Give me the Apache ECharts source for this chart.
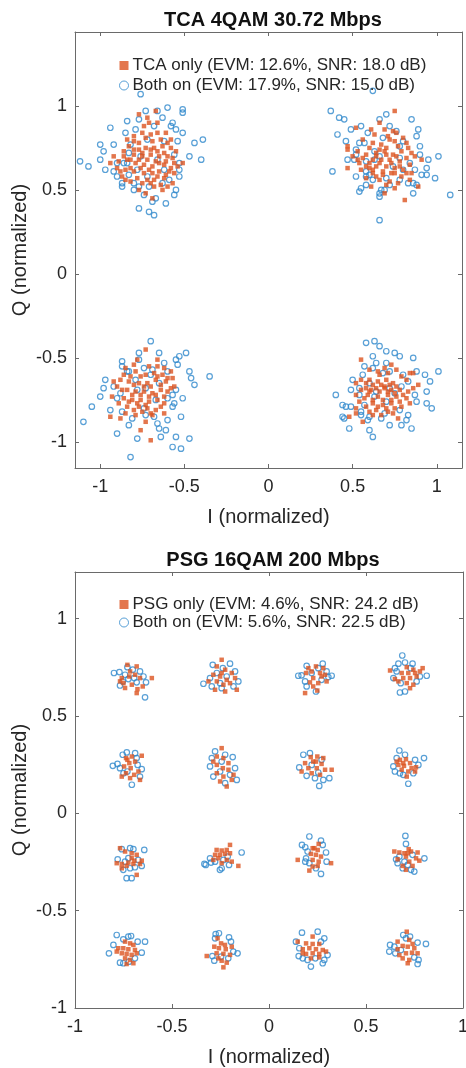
<!DOCTYPE html>
<html>
<head>
<meta charset="utf-8">
<script src="https://cdn.jsdelivr.net/npm/echarts@6/dist/echarts.min.js"></script>
<style>
html,body{margin:0;padding:0;background:#fff;}
#c{width:466px;height:1068px;}
</style>
</head>
<body>
<div id="c"></div>
<script>
// ---------- data ----------
const titleTop = 'TCA 4QAM 30.72 Mbps';
const titleBottom = 'PSG 16QAM 200 Mbps';
const nameTcaOnly = 'TCA only (EVM: 12.6%, SNR: 18.0 dB)';
const nameTcaBoth = 'Both on (EVM: 17.9%, SNR: 15.0 dB)';
const namePsgOnly = 'PSG only (EVM: 4.6%, SNR: 24.2 dB)';
const namePsgBoth = 'Both on (EVM: 5.6%, SNR: 22.5 dB)';
const xLabel = 'I (normalized)';
const yLabel = 'Q (normalized)';
const tickValues = [-1, -0.5, 0, 0.5, 1];
const topRangeI = [-1.15, 1.15];
const topRangeQ = [-1.155, 1.44];
const bottomRangeI = [-1, 1];
const bottomRangeQ = [-1, 1.24];

// TCA only (orange squares), top panel
const tcaOnly = [
[-0.77,0.95],[-0.72,0.93],[-0.67,0.97],[-0.71,0.90],[-0.66,0.84],[-0.61,0.84],[-0.84,0.80],[-0.80,0.79],[-0.77,0.78],[-0.73,0.81],
[-0.69,0.79],[-0.58,0.80],[-0.83,0.76],[-0.77,0.74],[-0.73,0.75],[-0.68,0.75],[-0.63,0.76],[-0.58,0.75],[-0.86,0.73],[-0.80,0.71],
[-0.75,0.70],[-0.70,0.71],[-0.65,0.70],[-0.60,0.70],[-0.55,0.73],[-0.94,0.66],[-0.89,0.67],[-0.84,0.68],[-0.79,0.66],[-0.74,0.65],
[-0.69,0.64],[-0.65,0.66],[-0.61,0.67],[-0.56,0.66],[-0.51,0.66],[-0.90,0.63],[-0.85,0.62],[-0.80,0.61],[-0.74,0.60],[-0.69,0.60],
[-0.65,0.61],[-0.59,0.61],[-0.54,0.64],[-0.78,0.57],[-0.72,0.56],[-0.68,0.56],[-0.62,0.57],[-0.87,0.58],[-0.77,0.50],[-0.73,0.48],
[-0.68,0.52],[-0.63,0.50],[-0.85,0.56],[-0.57,0.54],
[-0.80,0.82],[-0.75,0.84],[-0.70,0.83],[-0.64,0.80],[-0.60,0.78],[-0.86,0.70],[-0.82,0.68],[-0.77,0.68],[-0.72,0.68],[-0.67,0.67],
[-0.62,0.65],[-0.58,0.63],[-0.88,0.61],[-0.82,0.63],[-0.76,0.63],[-0.71,0.62],[-0.66,0.58],[-0.61,0.59],[-0.56,0.60],[-0.82,0.55],
[-0.75,0.54],[-0.70,0.54],[-0.64,0.53],[-0.60,0.52],[-0.80,0.74],[-0.75,0.72],[-0.70,0.74],[-0.66,0.73],[-0.62,0.72],[-0.57,0.69],
[-0.92,0.70],[-0.69,0.45],[-0.74,0.88],[-0.66,0.90],
[0.75,0.97],[0.66,0.90],[0.52,0.87],[0.61,0.86],[0.69,0.86],[0.74,0.85],[0.63,0.83],[0.71,0.82],[0.76,0.84],[0.47,0.76],
[0.47,0.74],[0.53,0.73],[0.62,0.78],[0.67,0.77],[0.75,0.79],[0.82,0.78],[0.64,0.72],[0.69,0.73],[0.74,0.71],[0.79,0.73],
[0.85,0.72],[0.56,0.69],[0.62,0.68],[0.67,0.68],[0.72,0.68],[0.78,0.67],[0.91,0.68],[0.47,0.63],[0.58,0.64],[0.64,0.64],
[0.70,0.64],[0.75,0.63],[0.80,0.62],[0.62,0.60],[0.68,0.59],[0.73,0.60],[0.79,0.58],[0.66,0.56],[0.72,0.55],[0.89,0.52],
[0.75,0.51],[0.69,0.48],[0.81,0.44],[0.60,0.63],[0.85,0.60],[0.54,0.66],
[0.56,0.80],[0.60,0.75],[0.66,0.74],[0.70,0.75],[0.77,0.76],[0.83,0.75],[0.58,0.71],[0.64,0.70],[0.70,0.71],[0.76,0.70],
[0.82,0.69],[0.87,0.70],[0.53,0.68],[0.60,0.66],[0.66,0.66],[0.73,0.66],[0.78,0.64],[0.84,0.65],[0.55,0.62],[0.62,0.62],
[0.68,0.61],[0.75,0.60],[0.82,0.60],[0.58,0.57],[0.64,0.58],[0.70,0.53],[0.77,0.54],[0.61,0.52],[0.84,0.56],[0.50,0.70],
[0.72,0.80],[0.80,0.81],
[-0.73,-0.45],[-0.78,-0.51],[-0.66,-0.51],[-0.58,-0.58],[-0.85,-0.56],[-0.79,-0.58],[-0.73,-0.60],[-0.68,-0.59],[-0.63,-0.60],[-0.88,-0.63],
[-0.83,-0.64],[-0.77,-0.65],[-0.72,-0.65],[-0.67,-0.63],[-0.61,-0.64],[-0.56,-0.67],[-0.90,-0.67],[-0.84,-0.69],[-0.79,-0.70],[-0.74,-0.70],
[-0.69,-0.71],[-0.64,-0.69],[-0.60,-0.70],[-0.93,-0.73],[-0.86,-0.74],[-0.81,-0.75],[-0.76,-0.75],[-0.71,-0.76],[-0.66,-0.75],[-0.62,-0.77],
[-0.84,-0.79],[-0.77,-0.79],[-0.72,-0.80],[-0.67,-0.81],[-0.94,-0.85],[-0.88,-0.86],[-0.79,-0.84],[-0.69,-0.84],[-0.76,-0.93],[-0.70,-0.99],
[-0.82,-0.61],[-0.57,-0.62],
[-0.80,-0.54],[-0.71,-0.55],[-0.62,-0.56],[-0.86,-0.60],[-0.76,-0.61],[-0.66,-0.61],[-0.60,-0.62],[-0.80,-0.66],[-0.74,-0.67],[-0.70,-0.67],
[-0.64,-0.66],[-0.58,-0.68],[-0.87,-0.69],[-0.81,-0.72],[-0.76,-0.72],[-0.71,-0.73],[-0.67,-0.72],[-0.62,-0.73],[-0.89,-0.77],[-0.83,-0.76],
[-0.78,-0.77],[-0.73,-0.78],[-0.64,-0.79],[-0.80,-0.81],[-0.75,-0.82],[-0.70,-0.83],[-0.62,-0.83],[-0.85,-0.83],[-0.73,-0.88],[-0.66,-0.55],
[-0.92,-0.64],
[0.55,-0.51],[0.65,-0.58],[0.69,-0.56],[0.73,-0.54],[0.76,-0.57],[0.84,-0.59],[0.86,-0.59],[0.55,-0.63],[0.60,-0.63],[0.65,-0.64],
[0.70,-0.63],[0.74,-0.65],[0.82,-0.63],[0.89,-0.66],[0.58,-0.68],[0.64,-0.68],[0.69,-0.68],[0.73,-0.69],[0.78,-0.69],[0.83,-0.70],
[0.52,-0.72],[0.59,-0.72],[0.65,-0.73],[0.71,-0.72],[0.76,-0.73],[0.82,-0.74],[0.54,-0.76],[0.62,-0.77],[0.68,-0.78],[0.73,-0.77],
[0.79,-0.79],[0.52,-0.80],[0.64,-0.81],[0.71,-0.82],[0.48,-0.85],[0.52,-0.83],[0.62,-0.84],[0.77,-0.86],[0.69,-0.67],[0.60,-0.70],
[0.60,-0.57],[0.71,-0.59],[0.79,-0.61],[0.52,-0.65],[0.58,-0.65],[0.62,-0.66],[0.67,-0.66],[0.72,-0.66],[0.76,-0.67],[0.86,-0.68],
[0.55,-0.69],[0.61,-0.69],[0.66,-0.70],[0.71,-0.70],[0.75,-0.71],[0.80,-0.72],[0.57,-0.74],[0.62,-0.75],[0.68,-0.75],[0.73,-0.75],
[0.78,-0.76],[0.58,-0.79],[0.65,-0.79],[0.70,-0.80],[0.75,-0.80],[0.60,-0.82],[0.67,-0.84],[0.74,-0.83],[0.84,-0.77],[0.56,-0.88],
[0.66,-0.60]
];

// Both on (blue open circles), top panel
const tcaBoth = [
[-0.76,1.07],[-0.73,0.97],[-0.60,0.99],[-0.51,0.98],[-0.51,0.96],[-0.66,0.97],[-0.84,0.91],[-0.94,0.87],[-0.77,0.92],[-0.63,0.93],
[-0.57,0.90],[-0.85,0.84],[-0.79,0.86],[-0.68,0.88],[-0.55,0.86],[-0.51,0.84],[-1.00,0.77],[-0.92,0.77],[-0.54,0.79],[-0.44,0.78],
[-0.39,0.80],[-1.12,0.67],[-1.07,0.64],[-1.00,0.68],[-0.97,0.62],[-0.92,0.61],[-0.90,0.66],[-0.83,0.72],[-0.84,0.66],[-0.78,0.62],
[-0.83,0.59],[-0.87,0.54],[-0.87,0.52],[-0.80,0.54],[-0.77,0.52],[-0.71,0.52],[-0.63,0.54],[-0.59,0.56],[-0.53,0.58],[-0.53,0.62],
[-0.53,0.66],[-0.40,0.68],[-0.55,0.50],[-0.56,0.47],[-0.67,0.45],[-0.61,0.42],[-0.77,0.39],[-0.71,0.37],[-0.68,0.35],[-0.74,0.47],
[-0.82,0.77],[-0.72,0.80],[-0.62,0.79],[-0.86,0.66],[-0.76,0.70],[-0.66,0.68],[-0.56,0.71],[-0.72,0.58],[-0.62,0.62],[-0.80,0.50],
[-0.90,0.58],[-0.58,0.88],[-0.47,0.70],[-0.98,0.73],[-0.69,0.43],
[0.62,1.09],[0.37,0.97],[0.42,0.93],[0.45,0.92],[0.41,0.83],[0.49,0.86],[0.55,0.88],[0.59,0.84],[0.66,0.92],[0.72,0.88],
[0.76,0.85],[0.89,0.86],[0.88,0.82],[0.54,0.78],[0.52,0.74],[0.63,0.73],[0.90,0.76],[0.47,0.68],[0.51,0.68],[0.58,0.67],
[0.78,0.69],[0.90,0.71],[1.01,0.70],[0.38,0.61],[0.58,0.61],[0.87,0.62],[0.94,0.63],[0.91,0.59],[0.94,0.59],[0.99,0.57],
[0.58,0.58],[0.62,0.56],[0.70,0.57],[0.78,0.56],[0.83,0.54],[0.86,0.54],[0.88,0.53],[0.58,0.53],[0.55,0.51],[0.54,0.49],
[0.67,0.50],[0.66,0.48],[0.66,0.46],[0.69,0.50],[0.86,0.48],[1.08,0.47],[0.66,0.32],[0.63,0.68],[0.78,0.76],
[0.57,0.78],[0.68,0.81],[0.80,0.79],[0.52,0.71],[0.66,0.70],[0.74,0.64],[0.84,0.66],[0.60,0.59],[0.72,0.53],[0.80,0.62],
[0.95,0.68],[0.46,0.79],[0.70,0.95],[0.85,0.92],[0.52,0.58],
[-0.77,-0.47],[-0.65,-0.47],[-0.49,-0.47],[-0.53,-0.49],[-0.55,-0.51],[-0.87,-0.52],[-0.77,-0.51],[-0.62,-0.53],[-0.54,-0.54],[-0.87,-0.55],
[-0.74,-0.56],[-0.84,-0.58],[-0.69,-0.57],[-0.47,-0.58],[-0.46,-0.62],[-0.35,-0.61],[-0.97,-0.63],[-0.92,-0.67],[-0.98,-0.68],[-0.79,-0.63],
[-0.65,-0.65],[-0.55,-0.69],[-0.51,-0.74],[-0.57,-0.72],[-0.57,-0.79],[-1.05,-0.79],[-0.94,-0.81],[-1.10,-0.88],[-0.87,-0.82],[-0.81,-0.86],
[-0.73,-0.84],[-0.68,-0.85],[-0.60,-0.87],[-0.66,-0.89],[-0.65,-0.92],[-0.61,-0.93],[-0.78,-0.98],[-0.55,-0.97],[-0.47,-0.98],[-0.57,-1.03],
[-0.52,-1.04],[-0.82,-1.09],[-0.60,-0.74],[-0.73,-0.68],[-0.88,-0.71],
[-0.83,-0.58],[-0.70,-0.60],[-0.60,-0.58],[-0.90,-0.74],[-0.78,-0.69],[-0.67,-0.75],[-0.56,-0.77],[-0.74,-0.80],[-0.83,-0.90],[-0.64,-0.97],
[-0.44,-0.66],[-1.00,-0.73],[-0.70,-0.40],[-0.52,-0.85],[-0.90,-0.95],
[0.58,-0.41],[0.63,-0.40],[0.66,-0.43],[0.62,-0.49],[0.70,-0.46],[0.75,-0.47],[0.78,-0.49],[0.64,-0.53],[0.70,-0.53],[0.62,-0.56],
[0.56,-0.60],[0.72,-0.58],[0.80,-0.60],[0.88,-0.58],[0.93,-0.60],[1.01,-0.58],[0.49,-0.69],[0.54,-0.68],[0.60,-0.65],[0.79,-0.67],
[0.87,-0.72],[0.94,-0.70],[0.54,-0.72],[0.63,-0.73],[0.70,-0.76],[0.44,-0.78],[0.46,-0.79],[0.49,-0.79],[0.94,-0.77],[0.97,-0.80],
[0.55,-0.82],[0.60,-0.85],[0.55,-0.84],[0.44,-0.85],[0.45,-0.86],[0.59,-0.87],[0.67,-0.86],[0.83,-0.84],[0.82,-0.87],[0.72,-0.90],
[0.85,-0.92],[0.60,-0.93],[0.78,-0.81],[0.75,-0.71],
[0.57,-0.55],[0.68,-0.59],[0.83,-0.64],[0.50,-0.63],[0.64,-0.70],[0.72,-0.68],[0.88,-0.76],[0.57,-0.78],[0.69,-0.83],[0.79,-0.90],
[0.48,-0.92],[0.96,-0.64],[0.86,-0.50],[0.62,-0.97],[0.40,-0.72]
];

// PSG only (orange squares), bottom panel
const psgOnly = [
[-0.730,0.763],[-0.682,0.755],[-0.759,0.695],[-0.720,0.703],[-0.690,0.712],[-0.665,0.695],[-0.604,0.695],[-0.750,0.669],[-0.707,0.661],[-0.678,0.638],
[-0.682,0.618],[-0.768,0.678],[-0.716,0.729],[-0.651,0.652],[-0.742,0.644],
[-0.244,0.789],[-0.269,0.755],[-0.226,0.738],[-0.192,0.721],[-0.287,0.712],[-0.252,0.703],[-0.218,0.686],[-0.175,0.695],[-0.312,0.678],[-0.269,0.678],
[-0.235,0.661],[-0.201,0.669],[-0.278,0.635],[-0.226,0.626],[-0.166,0.635],[-0.244,0.721],
[0.203,0.746],[0.242,0.755],[0.220,0.729],[0.263,0.721],[0.289,0.712],[0.191,0.721],[0.228,0.695],[0.271,0.703],[0.211,0.673],[0.254,0.669],
[0.297,0.678],[0.186,0.618],[0.249,0.631],[0.228,0.652],[0.280,0.746],
[0.624,0.734],[0.710,0.751],[0.744,0.738],[0.792,0.746],[0.684,0.721],[0.718,0.721],[0.753,0.721],[0.649,0.690],[0.692,0.695],[0.727,0.695],
[0.761,0.703],[0.710,0.669],[0.744,0.661],[0.727,0.643],[0.667,0.678],[0.778,0.729],
[-0.737,0.284],[-0.707,0.292],[-0.720,0.258],[-0.690,0.266],[-0.747,0.241],[-0.713,0.232],[-0.673,0.215],[-0.737,0.206],[-0.695,0.198],[-0.759,0.189],
[-0.665,0.172],[-0.716,0.181],[-0.656,0.296],[-0.730,0.275],
[-0.244,0.335],[-0.269,0.292],[-0.235,0.284],[-0.209,0.258],[-0.269,0.249],[-0.238,0.232],[-0.209,0.224],[-0.269,0.206],[-0.235,0.189],[-0.192,0.172],
[-0.252,0.164],[-0.218,0.138],[-0.287,0.266],[-0.183,0.198],
[0.215,0.289],[0.249,0.292],[0.280,0.284],[0.186,0.258],[0.228,0.266],[0.271,0.254],[0.203,0.232],[0.246,0.232],[0.289,0.224],[0.323,0.224],
[0.220,0.206],[0.263,0.198],[0.168,0.215],[0.242,0.266],
[0.675,0.275],[0.706,0.278],[0.727,0.258],[0.667,0.249],[0.696,0.244],[0.735,0.232],[0.758,0.237],[0.684,0.224],[0.718,0.215],[0.658,0.266],
[0.753,0.215],[0.710,0.189],[0.692,0.258],
[-0.768,-0.179],[-0.742,-0.196],[-0.708,-0.205],[-0.682,-0.213],[-0.785,-0.256],[-0.759,-0.260],[-0.725,-0.253],[-0.694,-0.243],[-0.656,-0.243],[-0.734,-0.270],
[-0.699,-0.260],[-0.665,-0.260],[-0.759,-0.282],[-0.682,-0.316],[-0.708,-0.230],
[-0.201,-0.162],[-0.270,-0.188],[-0.244,-0.191],[-0.218,-0.188],[-0.278,-0.213],[-0.253,-0.213],[-0.227,-0.208],[-0.201,-0.205],[-0.287,-0.239],[-0.261,-0.231],
[-0.218,-0.239],[-0.192,-0.248],[-0.158,-0.270],[-0.244,-0.256],
[0.256,-0.157],[0.225,-0.179],[0.251,-0.188],[0.216,-0.208],[0.242,-0.213],[0.268,-0.222],[0.225,-0.239],[0.256,-0.248],[0.320,-0.256],[0.148,-0.239],
[0.225,-0.273],[0.251,-0.270],[0.208,-0.294],[0.234,-0.179],
[0.720,-0.184],[0.646,-0.196],[0.672,-0.201],[0.698,-0.205],[0.732,-0.196],[0.766,-0.201],[0.706,-0.222],[0.663,-0.236],[0.758,-0.231],[0.723,-0.248],
[0.775,-0.243],[0.740,-0.270],[0.706,-0.290],[0.689,-0.270],[0.715,-0.205],
[-0.742,-0.659],[-0.716,-0.668],[-0.699,-0.676],[-0.777,-0.693],[-0.751,-0.693],[-0.725,-0.698],[-0.691,-0.702],[-0.759,-0.719],[-0.734,-0.722],[-0.708,-0.727],
[-0.682,-0.719],[-0.742,-0.745],[-0.716,-0.753],[-0.734,-0.774],[-0.785,-0.710],[-0.699,-0.770],
[-0.265,-0.642],[-0.247,-0.668],[-0.227,-0.676],[-0.282,-0.685],[-0.258,-0.693],[-0.223,-0.698],[-0.192,-0.685],[-0.321,-0.733],[-0.270,-0.719],[-0.235,-0.722],
[-0.201,-0.727],[-0.244,-0.757],[-0.218,-0.767],[-0.235,-0.791],[-0.261,-0.745],
[0.148,-0.659],[0.225,-0.633],[0.191,-0.668],[0.225,-0.671],[0.259,-0.671],[0.174,-0.698],[0.208,-0.693],[0.242,-0.698],[0.277,-0.702],[0.191,-0.722],
[0.225,-0.719],[0.259,-0.722],[0.294,-0.710],[0.216,-0.745],[0.259,-0.740],[0.174,-0.719],
[0.710,-0.608],[0.663,-0.659],[0.723,-0.650],[0.740,-0.671],[0.689,-0.681],[0.715,-0.685],[0.749,-0.693],[0.672,-0.728],[0.706,-0.719],[0.737,-0.716],
[0.766,-0.719],[0.689,-0.745],[0.723,-0.753],[0.715,-0.770],[0.663,-0.698]
];

// Both on (blue open circles), bottom panel
const psgBoth = [
[-0.799,0.721],[-0.771,0.726],[-0.768,0.657],[-0.730,0.751],[-0.702,0.738],[-0.665,0.729],[-0.647,0.703],[-0.634,0.673],[-0.682,0.673],[-0.725,0.690],
[-0.639,0.596],[-0.742,0.712],[-0.695,0.695],[-0.754,0.678],
[-0.290,0.763],[-0.201,0.769],[-0.238,0.746],[-0.338,0.666],[-0.295,0.652],[-0.244,0.643],[-0.183,0.652],[-0.158,0.678],[-0.269,0.721],[-0.218,0.703],
[-0.304,0.695],[-0.175,0.729],[-0.252,0.669],
[0.151,0.707],[0.168,0.709],[0.194,0.758],[0.277,0.769],[0.323,0.707],[0.306,0.700],[0.186,0.678],[0.194,0.652],[0.242,0.626],[0.271,0.686],
[0.220,0.721],[0.254,0.746],[0.297,0.729],
[0.687,0.811],[0.667,0.769],[0.701,0.775],[0.740,0.769],[0.649,0.746],[0.658,0.729],[0.641,0.695],[0.679,0.669],[0.675,0.621],[0.701,0.626],
[0.778,0.703],[0.813,0.707],[0.730,0.746],[0.761,0.678],
[-0.805,0.244],[-0.781,0.254],[-0.754,0.301],[-0.733,0.313],[-0.690,0.309],[-0.682,0.284],[-0.656,0.227],[-0.665,0.189],[-0.707,0.147],[-0.750,0.206],
[-0.768,0.232],[-0.730,0.215],[-0.677,0.249],
[-0.278,0.318],[-0.226,0.301],[-0.295,0.284],[-0.187,0.289],[-0.304,0.241],[-0.252,0.215],[-0.201,0.198],[-0.175,0.232],[-0.287,0.189],[-0.226,0.155],
[-0.166,0.172],[-0.244,0.266],
[0.177,0.301],[0.211,0.309],[0.156,0.236],[0.194,0.193],[0.237,0.181],[0.259,0.141],[0.280,0.172],[0.311,0.181],[0.254,0.210],[0.271,0.275],
[0.220,0.249],
[0.672,0.323],[0.658,0.284],[0.701,0.301],[0.753,0.275],[0.799,0.284],[0.770,0.249],[0.641,0.241],[0.649,0.215],[0.692,0.198],[0.675,0.206],
[0.718,0.152],[0.744,0.206],
[-0.759,-0.184],[-0.716,-0.179],[-0.699,-0.184],[-0.643,-0.188],[-0.780,-0.236],[-0.742,-0.248],[-0.751,-0.290],[-0.716,-0.282],[-0.691,-0.277],[-0.656,-0.270],
[-0.734,-0.333],[-0.708,-0.333],[-0.725,-0.230],[-0.674,-0.239],
[-0.333,-0.260],[-0.326,-0.265],[-0.299,-0.253],[-0.304,-0.231],[-0.253,-0.290],[-0.244,-0.282],[-0.206,-0.265],[-0.213,-0.222],[-0.141,-0.201],[-0.278,-0.248],
[-0.235,-0.239],
[0.208,-0.119],[0.170,-0.162],[0.187,-0.174],[0.268,-0.140],[0.277,-0.162],[0.199,-0.196],[0.191,-0.231],[0.187,-0.248],[0.208,-0.256],[0.294,-0.201],
[0.297,-0.248],[0.268,-0.311],[0.242,-0.282],
[0.703,-0.116],[0.706,-0.157],[0.655,-0.236],[0.663,-0.256],[0.689,-0.282],[0.715,-0.265],[0.732,-0.290],[0.749,-0.299],[0.698,-0.248],[0.801,-0.231],
[0.740,-0.213],[0.672,-0.222],
[-0.785,-0.625],[-0.751,-0.647],[-0.725,-0.633],[-0.711,-0.630],[-0.677,-0.659],[-0.639,-0.659],[-0.802,-0.676],[-0.825,-0.719],[-0.656,-0.716],[-0.768,-0.767],
[-0.751,-0.770],[-0.722,-0.762],[-0.691,-0.745],
[-0.275,-0.620],[-0.258,-0.616],[-0.278,-0.642],[-0.206,-0.637],[-0.196,-0.659],[-0.292,-0.733],[-0.282,-0.757],[-0.247,-0.736],[-0.210,-0.745],[-0.184,-0.710],
[-0.162,-0.719],
[0.170,-0.613],[0.251,-0.608],[0.139,-0.659],[0.285,-0.642],[0.156,-0.693],[0.153,-0.733],[0.302,-0.728],[0.174,-0.745],[0.199,-0.753],[0.239,-0.745],
[0.285,-0.753],[0.216,-0.787],[0.277,-0.770],[0.268,-0.659],
[0.692,-0.625],[0.706,-0.642],[0.624,-0.676],[0.646,-0.685],[0.620,-0.710],[0.651,-0.719],[0.680,-0.702],[0.766,-0.664],[0.809,-0.671],[0.749,-0.740],
[0.771,-0.753],[0.766,-0.774],[0.727,-0.633]
];

// ---------- chart ----------
const FONT = '"Liberation Sans", Arial, Helvetica, sans-serif';
const TXT = '#262626';
const AX = '#6a6a6a';
const ORANGE = '#dc5420';
const BLUE = '#2f88cc';

const chart = echarts.init(document.getElementById('c'), null, {renderer: 'canvas'});

function tickFmt(v) {
  return tickValues.some(t => Math.abs(t - v) < 1e-9) ? String(v) : '';
}

function xAxisCfg(grid, range, pos, withLabels) {
  return {
    type: 'value', gridIndex: grid, position: pos, min: range[0], max: range[1],
    splitNumber: 5,
    name: withLabels ? xLabel : '', nameLocation: 'middle', nameGap: 39,
    nameTextStyle: {fontFamily: FONT, fontSize: 20, color: TXT},
    axisLine: {show: true, onZero: false, lineStyle: {color: AX, width: 1}},
    axisTick: {show: true, inside: true, length: 4, lineStyle: {color: AX}},
    axisLabel: {show: withLabels, formatter: tickFmt, margin: 10, fontFamily: FONT, fontSize: 18, color: TXT},
    splitLine: {show: false}
  };
}
function yAxisCfg(grid, range, pos, withLabels) {
  return {
    type: 'value', gridIndex: grid, position: pos, min: range[0], max: range[1],
    splitNumber: 5,
    name: withLabels ? yLabel : '', nameLocation: 'middle', nameGap: 45,
    nameMoveOverlap: false,
    nameTextStyle: {fontFamily: FONT, fontSize: 20, color: TXT},
    axisLine: {show: true, onZero: false, lineStyle: {color: AX, width: 1}},
    axisTick: {show: true, inside: true, length: 4, lineStyle: {color: AX}},
    axisLabel: {show: withLabels, formatter: tickFmt, margin: 8, fontFamily: FONT, fontSize: 18, color: TXT},
    splitLine: {show: false}
  };
}

function blueSeries(name, data, xi, yi) {
  return {
    type: 'scatter', name: name, data: data, xAxisIndex: xi, yAxisIndex: yi,
    symbol: 'circle', symbolSize: 5.5,
    itemStyle: {color: 'rgba(255,255,255,0)', borderColor: BLUE, borderWidth: 1.2},
    emphasis: {disabled: true}, silent: true, animation: false
  };
}
function orangeSeries(name, data, xi, yi) {
  return {
    type: 'scatter', name: name, data: data, xAxisIndex: xi, yAxisIndex: yi,
    symbol: 'rect', symbolSize: 4.5,
    itemStyle: {color: ORANGE},
    emphasis: {disabled: true}, silent: true, animation: false
  };
}

const option = {
  backgroundColor: '#fff',
  animation: false,
  title: [
    {text: titleTop, left: 268, top: 5, textAlign: 'center',
     textStyle: {fontFamily: FONT, fontSize: 20, fontWeight: 'bold', color: '#111'}},
    {text: titleBottom, left: 268, top: 545, textAlign: 'center',
     textStyle: {fontFamily: FONT, fontSize: 20, fontWeight: 'bold', color: '#111'}}
  ],
  legend: [
    {data: [{name: nameTcaOnly, icon: 'rect', itemStyle: {color: ORANGE}},
            {name: nameTcaBoth, icon: 'circle', itemStyle: {color: '#fff', borderColor: BLUE, borderWidth: 1}}],
     orient: 'vertical', left: 114, top: 52, itemWidth: 9, itemHeight: 9, itemGap: 3,
     selectedMode: false, textStyle: {fontFamily: FONT, fontSize: 17, color: TXT, padding: [0, 0, 0, -1]}},
    {data: [{name: namePsgOnly, icon: 'rect', itemStyle: {color: ORANGE}},
            {name: namePsgBoth, icon: 'circle', itemStyle: {color: '#fff', borderColor: BLUE, borderWidth: 1}}],
     orient: 'vertical', left: 114, top: 591, itemWidth: 9, itemHeight: 9, itemGap: 1,
     selectedMode: false, textStyle: {fontFamily: FONT, fontSize: 17, color: TXT, padding: [0, 0, 0, -1]}}
  ],
  grid: [
    {left: 75, top: 32, width: 387, height: 436, containLabel: false, outerBoundsMode: 'none'},
    {left: 75, top: 572, width: 388, height: 436, containLabel: false, outerBoundsMode: 'none'}
  ],
  xAxis: [
    xAxisCfg(0, topRangeI, 'bottom', true),
    xAxisCfg(0, topRangeI, 'top', false),
    xAxisCfg(1, bottomRangeI, 'bottom', true),
    xAxisCfg(1, bottomRangeI, 'top', false)
  ],
  yAxis: [
    yAxisCfg(0, topRangeQ, 'left', true),
    yAxisCfg(0, topRangeQ, 'right', false),
    yAxisCfg(1, bottomRangeQ, 'left', true),
    yAxisCfg(1, bottomRangeQ, 'right', false)
  ],
  series: [
    blueSeries(nameTcaBoth, tcaBoth, 0, 0),
    orangeSeries(nameTcaOnly, tcaOnly, 0, 0),
    blueSeries(namePsgBoth, psgBoth, 2, 2),
    orangeSeries(namePsgOnly, psgOnly, 2, 2)
  ]
};
chart.setOption(option);
</script>
</body>
</html>
